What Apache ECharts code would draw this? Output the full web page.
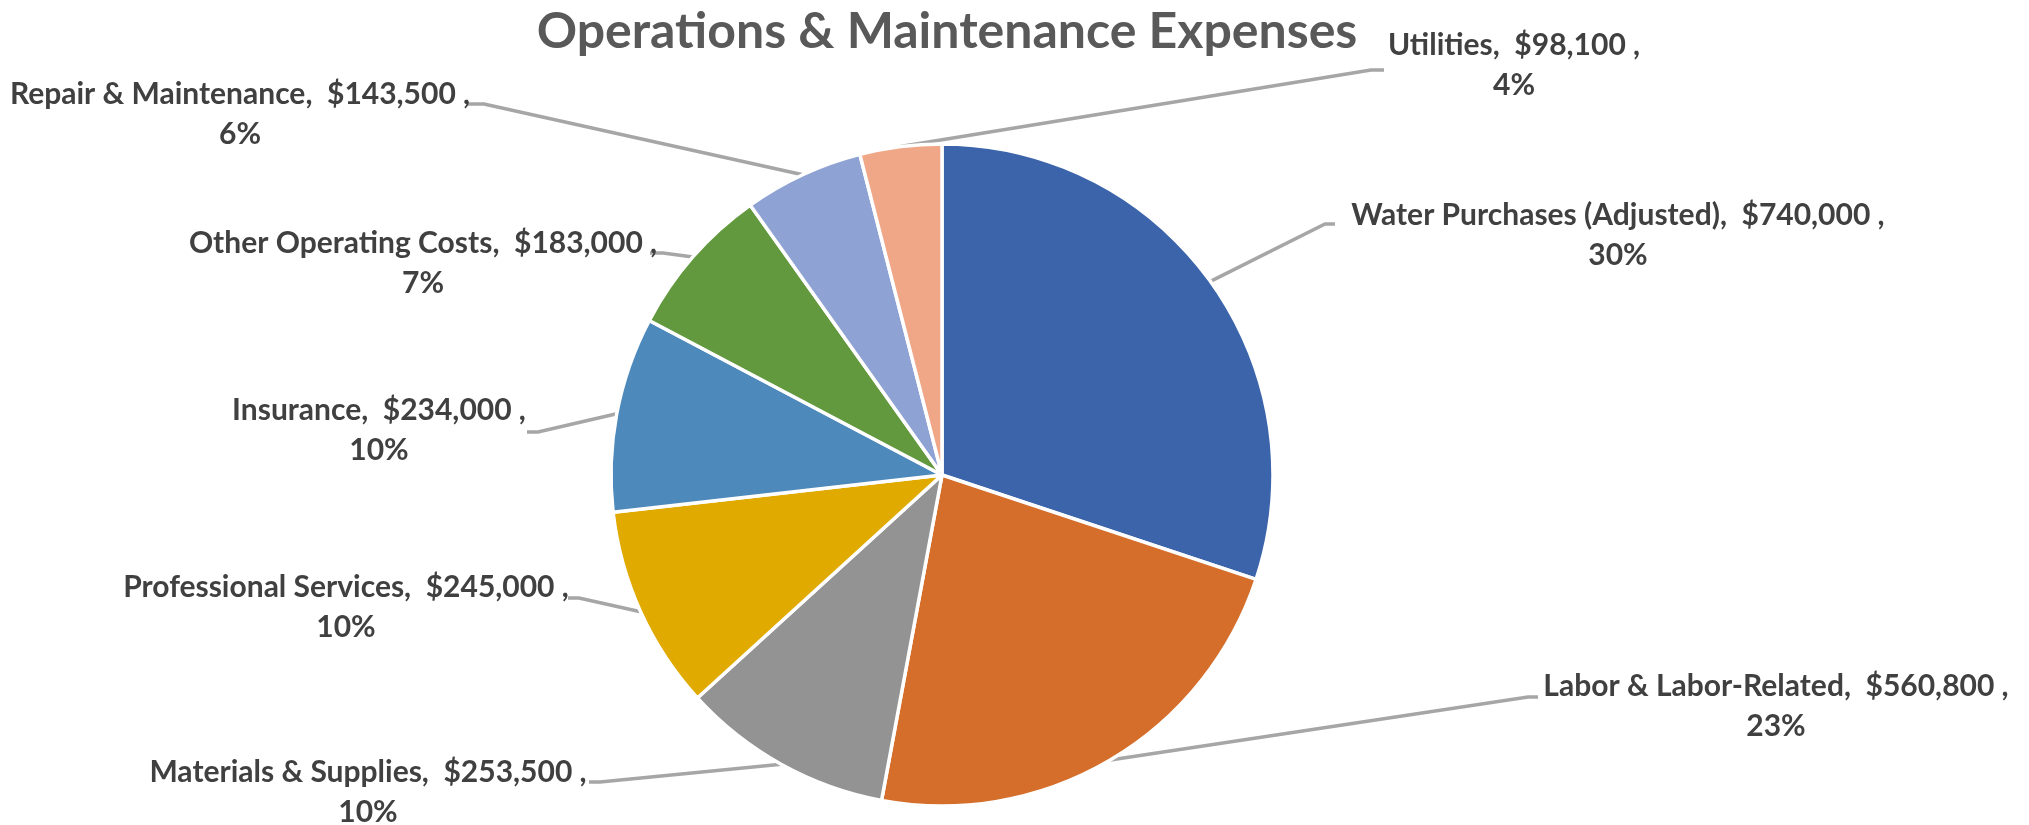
<!DOCTYPE html>
<html>
<head>
<meta charset="utf-8">
<title>Operations &amp; Maintenance Expenses</title>
<script src="https://cdn.jsdelivr.net/npm/echarts@6/dist/echarts.min.js"></script>
<style>
  html, body { margin: 0; padding: 0; background: #ffffff; }
  #chart { width: 2029px; height: 825px; }
</style>
</head>
<body>
<div id="chart"></div>
<script>
// Expense categories, clockwise from 12 o'clock
const categories = [
  'Water Purchases (Adjusted)',
  'Labor & Labor-Related',
  'Materials & Supplies',
  'Professional Services',
  'Insurance',
  'Other Operating Costs',
  'Repair & Maintenance',
  'Utilities'
];
// Annual amounts in dollars
const amounts = [740000, 560800, 253500, 245000, 234000, 183000, 143500, 98100];

// Slice colours
const sliceColors = ['#3C64AB', '#D46E2A', '#939393', '#E0AA00', '#4D89BA', '#62993E', '#8FA2D4', '#F0A788'];

// Label block centres and leader elbow/end x (layout only)
const labelCenters = [[1618, 235], [1776, 706], [368, 792], [346, 607], [379, 430], [423, 263], [240, 114], [1514, 65]];
const leaderBends = [[1325, 224, 1335], [1528, 697, 1538], [600, 782, 589], [579, 598, 568], [538, 432, 527], [663, 253, 650], [484, 104, 468], [1371, 70, 1384]];

const FONT = 'Lato, "Open Sans", "Noto Sans", sans-serif';
const PIE_CENTER = [942, 475];

const chart = echarts.init(document.getElementById('chart'));

chart.setOption({
  backgroundColor: '#ffffff',
  animation: false,
  title: {
    text: 'Operations & Maintenance Expenses',
    left: PIE_CENTER[0],
    textAlign: 'center',
    top: 2,
    textStyle: {
      fontFamily: FONT,
      fontWeight: 'bold',
      fontSize: 50,
      color: '#595959'
    }
  },
  color: sliceColors,
  series: [{
    type: 'pie',
    center: PIE_CENTER,
    radius: 331,
    startAngle: 90,
    clockwise: true,
    avoidLabelOverlap: false,
    data: categories.map((name, i) => ({ name: name, value: amounts[i] })),
    itemStyle: {
      borderColor: '#ffffff',
      borderWidth: 3.5
    },
    label: {
      show: true,
      position: 'outside',
      fontFamily: FONT,
      fontWeight: 'bold',
      fontSize: 30,
      lineHeight: 40,
      color: '#404040',
      align: 'center',
      formatter: function (p) {
        return p.name + ',  $' + p.value.toLocaleString('en-US') + ' ,\n' + Math.round(p.percent) + '%';
      }
    },
    labelLine: {
      show: true,
      length: 20,
      length2: 10,
      lineStyle: { color: '#A6A6A6', width: 3.5 }
    },
    labelLayout: function (params) {
      const i = params.dataIndex;
      const c = labelCenters[i];
      const b = leaderBends[i];
      const start = params.labelLinePoints ? params.labelLinePoints[0] : null;
      const out = {
        x: c[0],
        y: c[1],
        align: 'center',
        verticalAlign: 'middle'
      };
      if (start) {
        out.labelLinePoints = [start, [b[0], b[1]], [b[2], b[1]]];
      }
      return out;
    }
  }]
});
</script>
</body>
</html>
